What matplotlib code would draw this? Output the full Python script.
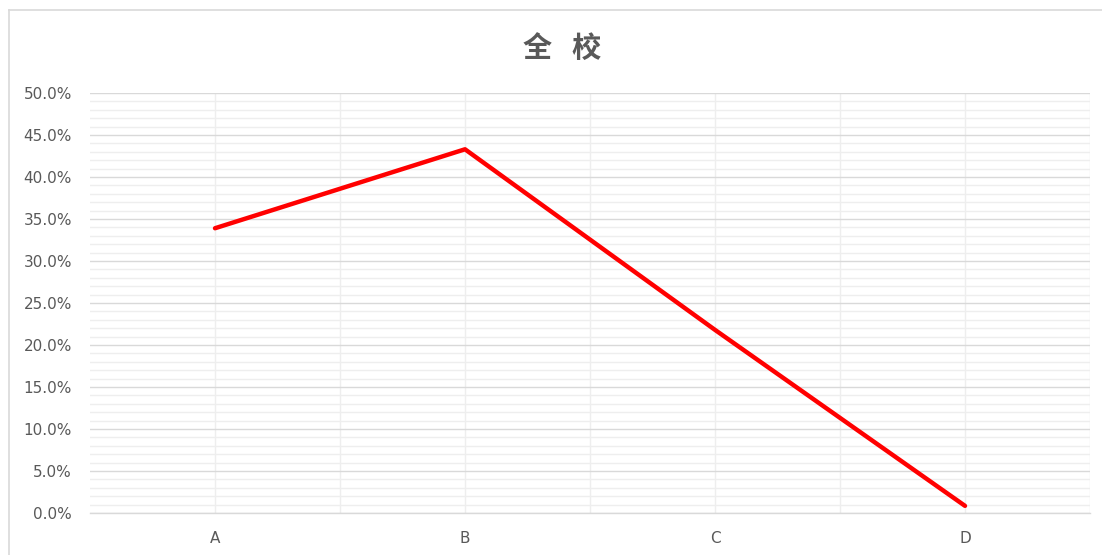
import matplotlib.pyplot as plt
import numpy as np
from matplotlib.ticker import MultipleLocator, FuncFormatter

# data
categories = ['A', 'B', 'C', 'D']
values = [33.9, 43.3, 21.8, 0.85]
title = '全   校'

plt.rcParams['font.family'] = ['Noto Sans CJK SC', 'DejaVu Sans']

fig = plt.figure(figsize=(11.02, 5.55), dpi=100)
W, H = 1102, 555
ax = fig.add_axes([90 / W, (H - 513) / H, 1000 / W, 420 / H])

x = np.arange(len(categories))
ax.plot(x, values, color='#ff0000', lw=3.2, solid_capstyle='round', zorder=3)

ax.set_xlim(-0.5, len(categories) - 0.5)
ax.set_ylim(0, 50)

# gridlines
ax.yaxis.set_major_locator(MultipleLocator(5))
ax.yaxis.set_minor_locator(MultipleLocator(1))
ax.grid(which='major', axis='y', color='#d9d9d9', lw=1.0)
ax.grid(which='minor', axis='y', color='#eeeeee', lw=1.0)
ax.set_xticks(x)
ax.set_xticks(np.arange(0.5, len(categories), 1.0), minor=True)
ax.grid(which='both', axis='x', color='#eeeeee', lw=1.0)
ax.set_axisbelow(True)

ax.yaxis.set_major_formatter(FuncFormatter(lambda v, p: f'{v:.1f}%'))
ax.set_xticklabels(categories)

for s in ['top', 'left', 'right']:
    ax.spines[s].set_visible(False)
ax.spines['bottom'].set_color('#d9d9d9')
ax.spines['bottom'].set_linewidth(1.0)

ax.tick_params(which='both', length=0, colors='#595959')
ax.tick_params(axis='y', pad=13, labelsize=11, labelfontfamily='DejaVu Sans')
ax.tick_params(axis='x', pad=13, labelsize=11, labelfontfamily='DejaVu Sans')

fig.text(562 / W, 1 - 48 / H, title, ha='center', va='center',
         fontsize=21, fontweight='bold', color='#595959')

# chart area border (left / top only visible)
fig.add_artist(plt.Line2D([9 / W, 9 / W], [0, 1 - 10 / H], color='#d9d9d9', lw=1.2))
fig.add_artist(plt.Line2D([9 / W, 1], [1 - 10 / H, 1 - 10 / H], color='#d9d9d9', lw=1.2))

fig.savefig('out.png', dpi=100)
